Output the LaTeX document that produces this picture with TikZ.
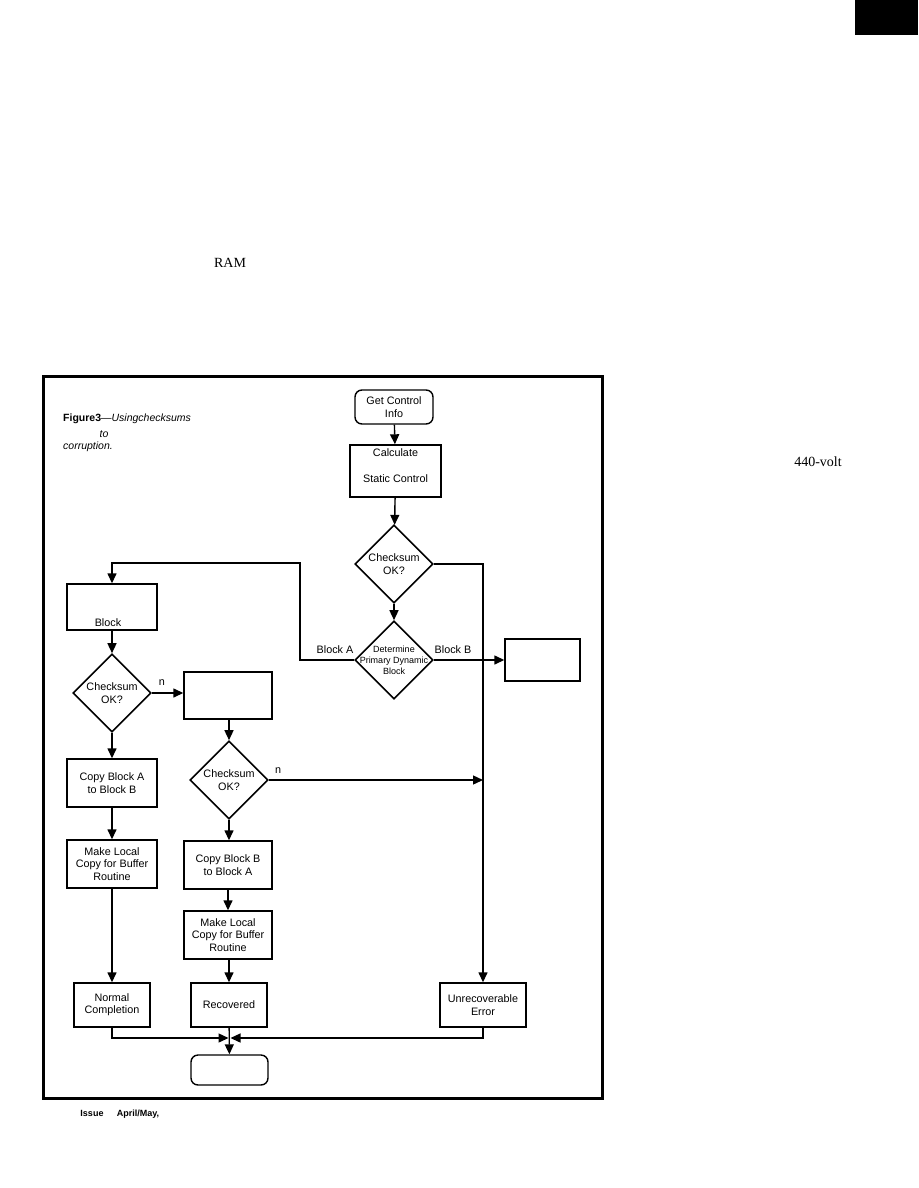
\documentclass[tikz,border=0pt]{standalone}
\usepackage{fontspec}
\setmainfont{Liberation Serif}
\setsansfont{Liberation Sans}
\usetikzlibrary{shapes.geometric,arrows.meta}
\begin{document}
\begin{tikzpicture}[x=1pt,y=-1pt,
  box/.style={draw, line width=1.4pt, inner sep=0pt, font=\sffamily\fontsize{10.8}{12.3}\selectfont, align=center},
  dia/.style={draw, diamond, line width=1.6pt, minimum width=78pt, minimum height=78pt, inner sep=0pt},
  arr/.style={line width=1.4pt, -{Triangle[length=10pt,width=9pt]}},
  lab/.style={font=\sffamily\fontsize{10.8}{12.3}\selectfont, inner sep=0pt, align=center},
  small/.style={font=\sffamily\fontsize{9}{11}\selectfont, inner sep=0pt, align=center},
  serif/.style={font=\rmfamily\fontsize{14}{16}\selectfont, inner sep=0pt}]
\useasboundingbox (0,0) rectangle (918,1188);

% page decorations
\fill (855,0) rectangle (918,35);
\node[serif] (ram) at (230,263) {RAM};
\node[serif] (volt) at (818,462) {440-volt};
\node[font=\sffamily\bfseries\fontsize{9}{10}\selectfont, inner sep=0pt, anchor=base] (issue) at (92,1116) {Issue};
\node[font=\sffamily\bfseries\fontsize{9}{10}\selectfont, inner sep=0pt, anchor=base] (apr) at (138,1116) {April/May,};

% frame
\draw[line width=3pt] (43,376) rectangle (602,1098);

% caption
\node[font=\sffamily\fontsize{10.5}{12}\selectfont, inner sep=0pt, anchor=west] (cap1) at (63,419) {\textbf{Figure3}---\textit{Usingchecksums}};
\node[font=\sffamily\itshape\fontsize{10.5}{12}\selectfont, inner sep=0pt] (cap2) at (104,434) {to};
\node[font=\sffamily\itshape\fontsize{10.5}{12}\selectfont, inner sep=0pt, anchor=west] (cap3) at (63,447) {corruption.};

% nodes
\node[box, rounded corners=7pt, minimum width=78pt, minimum height=34pt] (get) at (394,407) {Get Control\\Info};
\node[box, minimum width=91pt, minimum height=52pt] (calc) at (395.5,471) {};
\node[lab] (calcA) at (395.5,453) {Calculate};
\node[lab] (calcB) at (395.5,479) {Static Control};

\node[dia] (d1) at (394,564) {};
\node[lab] (d1t) at (394,564) {Checksum\\OK?};

\node[dia] (d2) at (394,660) {};
\node[small] (d2t) at (394,660) {Determine\\Primary Dynamic\\Block};

\node[box, minimum width=75pt, minimum height=42pt] (rbox) at (542.5,660) {};

\node[box, minimum width=90pt, minimum height=46pt] (blk) at (112,607) {};
\node[lab] (blkt) at (108,623) {Block};

\node[dia] (d3) at (112,693) {};
\node[lab] (d3t) at (112,693) {Checksum\\OK?};

\node[box, minimum width=88pt, minimum height=47pt] (mbox) at (228,695.5) {};

\node[dia] (d4) at (229,780) {};
\node[lab] (d4t) at (229,780) {Checksum\\OK?};

\node[box, minimum width=90pt, minimum height=48pt] (copyab) at (112,783) {Copy Block A\\to Block B};
\node[box, minimum width=90pt, minimum height=48pt] (loca) at (112,864) {Make Local\\Copy for Buffer\\Routine};
\node[box, minimum width=88pt, minimum height=48pt] (copyba) at (228,865) {Copy Block B\\to Block A};
\node[box, minimum width=88pt, minimum height=48pt] (locb) at (228,935) {Make Local\\Copy for Buffer\\Routine};

\node[box, minimum width=76pt, minimum height=44pt] (normal) at (112,1005) {Normal\\Completion};
\node[box, minimum width=76pt, minimum height=44pt] (recov) at (229,1005) {Recovered};
\node[box, minimum width=86pt, minimum height=44pt] (unrec) at (483,1005) {Unrecoverable\\Error};
\node[box, rounded corners=7pt, minimum width=77pt, minimum height=30pt] (endn) at (229.5,1070) {};

% labels
\node[lab] (lba) at (335,650) {Block A};
\node[lab] (lbb) at (453,650) {Block B};
\node[lab] (n1) at (162,683) {n};
\node[lab] (n2) at (278,771) {n};

% coordinates
\coordinate (ja) at (300,563);
\coordinate (mj) at (229.5,1038);

% connectors
\draw[arr] (get) -- (calc);
\draw[arr] (calc) -- (d1);
\draw[arr] (d1) -- (d2);
\draw[arr] (d1.east) -| (unrec.north);
\draw[arr] (d2.west) -| (ja) -| (blk.north);
\draw[arr] (d2.east) -- (rbox.west);
\draw[arr] (blk) -- (d3);
\draw[arr] (d3.east) -- (d3.east -| mbox.west);
\draw[arr] (mbox.south -| d4.north) -- (d4.north);
\draw[arr] (d4.east) -- (d4.east -| unrec.north);
\draw[arr] (d3) -- (copyab);
\draw[arr] (copyab) -- (loca);
\draw[arr] (loca) -- (normal);
\draw[arr] (d4) -- (d4.south |- copyba.north);
\draw[arr] (copyba) -- (locb);
\draw[arr] (locb.south -| recov.north) -- (recov.north);
\draw[arr] (recov) -- (endn);
\draw[arr] (normal.south) |- ([xshift=-1pt]mj);
\draw[arr] (unrec.south) |- ([xshift=1pt]mj);
\end{tikzpicture}
\end{document}
